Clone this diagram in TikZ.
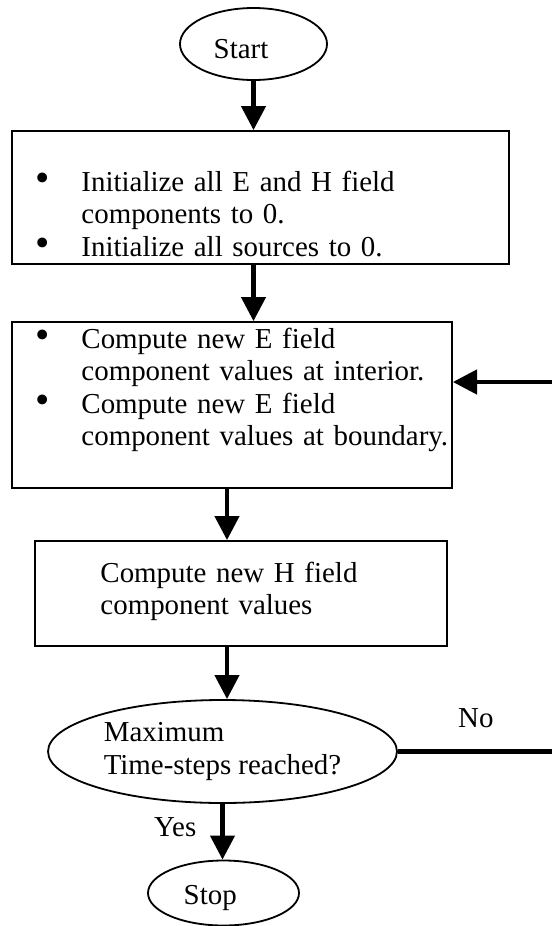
\documentclass[tikz,border=0pt]{standalone}
\usepackage{fontspec}
\setmainfont{Liberation Serif}
\usepackage{tikz}
\usetikzlibrary{shapes,arrows.meta}

\newlength{\pxu}
\setlength{\pxu}{0.415pt}
\newcommand{\bul}{\makebox[69\pxu][l]{\hspace{23\pxu}{\fontsize{17}{13.5}\selectfont\textbullet}}}
\newcommand{\ind}{\hspace*{69\pxu}}

\begin{document}
\begin{tikzpicture}[x=\pxu,y=-\pxu,font=\fontsize{12}{13.5}\selectfont]
	\useasboundingbox (0,0) rectangle (552,926);

	\def \starty{44}
	\def \inity{197.5}
	\def \estepy{405}
	\def \hstepy{593.5}
	\def \decidey{751.5}
	\def \stopy{893}
	\def \loopy{382}

	\tikzstyle{terminal}=[ellipse,draw=black,line width=0.75pt,inner sep=0pt,text width=33pt,align=left,text height=12pt]
	\tikzstyle{choice}=[ellipse,draw=black,line width=0.75pt,inner sep=0pt,align=left]
	\tikzstyle{stepbox}=[rectangle,draw=black,line width=0.75pt,inner sep=0pt]
	\tikzstyle{steptext}=[anchor=base west,inner sep=0pt,text width=7cm,align=left]
	\tikzstyle{annot}=[inner sep=0pt]
	\tikzstyle{flow}=[-{Triangle[length=10pt,width=10pt]},line width=1.75pt]

	% start / stop
	\node[terminal,minimum width=147*\pxu,minimum height=72*\pxu] (start) at (253.5,\starty) {Start};
	\node[terminal,minimum width=151*\pxu,minimum height=65*\pxu] (stop) at (223.5,\stopy) {Stop};

	% update steps
	\node[stepbox,minimum width=497*\pxu,minimum height=133*\pxu] (init) at (260.5,\inity) {};
	\node[stepbox,minimum width=440*\pxu,minimum height=166*\pxu] (estep) at (232,\estepy) {};
	\node[stepbox,minimum width=412*\pxu,minimum height=105*\pxu] (hstep) at (241,\hstepy) {};

	\node[steptext] (init-text) at (12,191) {\bul Initialize all E and H field\\ \ind components to 0.\\ \bul Initialize all sources to 0.};
	\node[steptext] (estep-text) at (12,348) {\bul Compute new E field\\ \ind component values at interior.\\ \bul Compute new E field\\ \ind component values at boundary.};
	\node[steptext] (hstep-text) at (100,582) {Compute new H field\\ component values};

	% loop test
	\node[choice,minimum width=349*\pxu,minimum height=103*\pxu] (decide) at (222.5,\decidey) {Maximum\\ Time-steps reached?};

	\coordinate (spine) at (227,0);
	\coordinate (loop) at (557,\loopy);

	\draw[flow] (start) -- (start |- init.north);
	\draw[flow] (init.south -| start) -- (estep.north -| start);
	\draw[flow] (estep.south -| spine) -- (hstep.north -| spine);
	\draw[flow] (hstep.south -| spine) -- (decide.north -| spine);
	\draw[flow] (decide.south) -- node[annot,pos=0.42,left=10pt] (yes) {Yes} (decide.south |- stop.north);
	\draw[flow] (decide.east) -- node[annot,pos=0.49,above=9pt] (no) {No} (decide.east -| loop)
		-- (loop) -- (loop -| estep.east);
\end{tikzpicture}
\end{document}
